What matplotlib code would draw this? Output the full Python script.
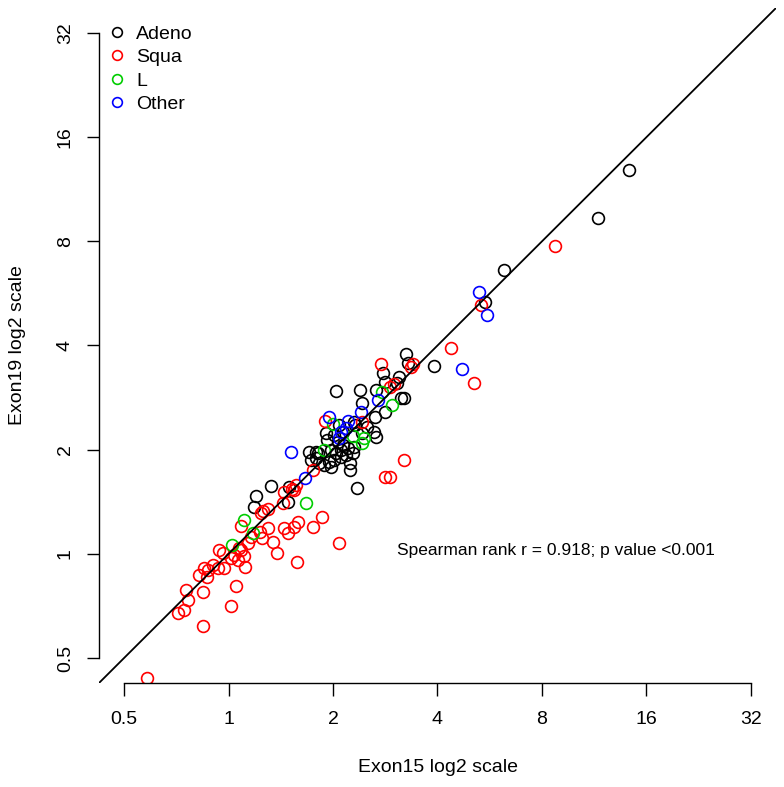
import matplotlib
matplotlib.use("Agg")
import matplotlib.pyplot as plt
from matplotlib.lines import Line2D

plt.rcParams['font.family'] = ['Liberation Sans', 'DejaVu Sans']

# log2 values (x = Exon15, y = Exon19)
adeno_x = [3.837, 3.541, 2.632, 2.450, 1.703, 1.713, 1.962, 1.483, 1.493, 1.636, 1.608, 1.024,
           1.254, 1.407, 1.646, 1.675, 1.282, 1.493, 1.397, 1.196, 1.053, 1.091, 1.282, 1.388,
           1.407, 1.321, 0.928, 0.947, 1.005, 1.043, 1.100, 1.148, 1.196, 1.072, 0.976, 0.766,
           0.833, 0.785, 0.833, 0.861, 0.909, 0.957, 0.976, 1.005, 1.072, 1.120, 1.167, 1.167,
           1.234, 0.852, 1.024, 1.187, 0.411, 0.258, 0.239, 0.574, 0.565, 1.215]
adeno_y = [3.685, 3.225, 2.726, 2.418, 1.919, 1.833, 1.804, 1.737, 1.651, 1.699, 1.641, 1.564,
           1.574, 1.574, 1.497, 1.497, 1.449, 1.363, 1.315, 1.267, 1.238, 1.171, 1.161, 1.171,
           1.123, 1.219, 1.161, 1.094, 1.142, 1.075, 1.046, 1.017, 1.027, 0.998, 0.998, 0.979,
           0.979, 0.902, 0.921, 0.873, 0.854, 0.883, 0.835, 0.902, 0.931, 0.950, 0.873, 0.806,
           0.633, 0.969, 0.969, 0.969, 0.653, 0.557, 0.451, 0.643, 0.499, 1.238]

squa_x = [3.129, 2.421, 2.134, 1.761, 1.742, 1.455, 2.354, 1.550, 1.579, 1.675, 1.550, 1.502,
          1.282, 0.919, 0.813, 0.641, 0.622, 0.526, 0.612, 0.517, 0.325, 0.373, 0.306, 0.115,
          0.890, 0.813, 0.660, 0.622, 0.526, 0.565, 0.373, 0.297, 0.316, 0.421, 0.459, 0.651,
          1.053, 0.211, 0.182, 0.115, 0.048, 0.144, 0.086, -0.096, -0.057, 0.153, -0.048, -0.105,
          -0.153, -0.201, -0.239, -0.287, -0.211, -0.411, -0.249, -0.392, -0.488, -0.431, 0.067,
          0.019, -0.249, -0.785, 0.096, 0.019]
squa_y = [2.956, 2.390, 1.977, 1.823, 1.795, 1.823, 1.641, 1.603, 1.631, 0.902, 0.739, 0.739,
          1.267, 1.276, 0.806, 0.662, 0.614, 0.595, 0.624, 0.489, 0.413, 0.432, 0.393, 0.269,
          0.355, 0.259, 0.307, 0.259, 0.250, 0.202, 0.250, 0.211, 0.154, 0.115, 0.010, -0.077,
          0.106, 0.163, 0.106, 0.038, -0.010, -0.019, -0.058, 0.038, 0.010, -0.125, -0.134, -0.134,
          -0.106, -0.154, -0.134, -0.202, -0.221, -0.345, -0.365, -0.441, -0.566, -0.537, -0.307,
          -0.499, -0.691, -1.190, 0.058, -0.038]

l_x = [1.569, 1.464, 0.737, 0.144, 0.230, 0.029, 0.995, 1.187, 1.292, 1.282, 0.909]
l_y = [1.430, 1.555, 0.489, 0.326, 0.202, 0.086, 1.248, 1.132, 1.113, 1.065, 0.998]

other_x = [2.402, 2.478, 2.239, 1.435, 1.263, 0.957, 1.148, 1.120, 1.081, 1.053, 0.593, 0.727]
other_y = [2.514, 2.294, 1.775, 1.478, 1.363, 1.315, 1.276, 1.209, 1.171, 1.113, 0.979, 0.729]

groups = ["Adeno", "Squa", "L", "Other"]
colors = ["black", "#FF0000", "#00CD00", "#0000FF"]
series = [(adeno_x, adeno_y), (squa_x, squa_y), (l_x, l_y), (other_x, other_y)]

tick_pos = [-1, 0, 1, 2, 3, 4, 5]
tick_labels = ["0.5", "1", "2", "4", "8", "16", "32"]

W, H = 784, 787
fig = plt.figure(figsize=(W / 100, H / 100), dpi=100)
ax = fig.add_axes([99 / W, 1 - 683 / H, (776 - 99) / W, (683 - 8) / H])

for (xs, ys), c in zip(series, colors):
    ax.plot(xs, ys, linestyle='none', marker='o', markersize=8.5, markerfacecolor='none',
            markeredgecolor=c, markeredgewidth=1.2)

ax.axline((0, 0), slope=1, color='black', lw=1.3)

ax.set_xlim(-1.24, 5.24)
ax.set_ylim(-1.24, 5.24)
ax.set_xticks(tick_pos)
ax.set_xticklabels(tick_labels, fontsize=14)
ax.set_yticks(tick_pos)
ax.set_yticklabels(tick_labels, fontsize=14, rotation=90, va='center')
ax.tick_params(axis='x', length=9, width=1, pad=11, direction='out', colors='black')
ax.tick_params(axis='y', length=9, width=1, pad=9, direction='out', colors='black')
for s in ['top', 'right']:
    ax.spines[s].set_visible(False)
ax.spines['bottom'].set_bounds(-1, 5)
ax.spines['left'].set_bounds(-1, 5)
for s in ['bottom', 'left']:
    ax.spines[s].set_linewidth(1)

handles = [Line2D([], [], linestyle='none', marker='o', markersize=7, markerfacecolor='none',
                  markeredgecolor=c, markeredgewidth=1.2) for c in colors]
ax.legend(handles, groups, loc='upper left', bbox_to_anchor=(0, 0.986), frameon=False,
          fontsize=14, handlelength=1.1, handletextpad=0.4, labelspacing=0.3,
          borderaxespad=0, borderpad=0.4)

ax.text(3.13, 0.03, "Spearman rank r = 0.918; p value <0.001", ha='center', va='center',
        fontsize=12.5)

fig.text(437.5 / W, 1 - 768 / H, "Exon15 log2 scale", ha='center', va='center', fontsize=14)
fig.text(18 / W, 1 - 345 / H, "Exon19 log2 scale", ha='center', va='center', fontsize=14,
         rotation=90)

fig.savefig("out.png", dpi=100)
